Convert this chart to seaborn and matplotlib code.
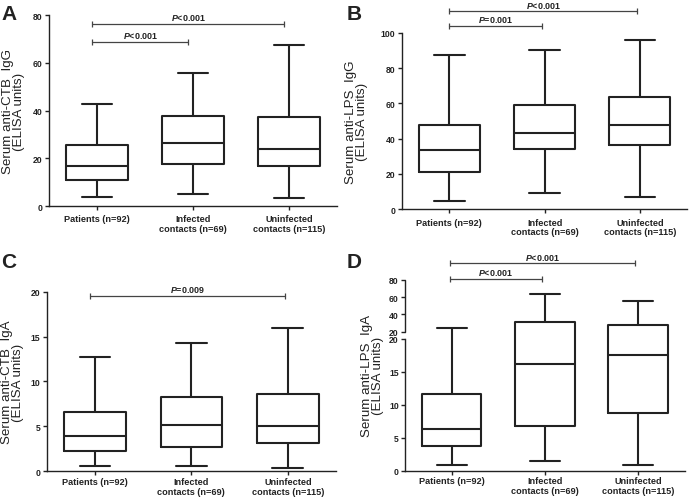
import matplotlib
matplotlib.use("Agg")
import matplotlib.pyplot as plt
from matplotlib.ticker import FixedLocator
import seaborn as sns
import pandas as pd
import numpy as np

# five-number summaries: min, Q1, median, Q3, max
groups = ["Patients (n=92)", "Infected\ncontacts (n=69)", "Uninfected\ncontacts (n=115)"]
ctb_igg = [[3.6, 11.0, 16.7, 25.4, 42.8],
           [5.0, 17.4, 26.3, 37.5, 55.7],
           [3.2, 16.7, 23.7, 37.1, 67.5]]
lps_igg = [[4.5, 21.1, 33.6, 47.9, 87.2],
           [9.2, 34.3, 43.4, 59.2, 90.4],
           [7.0, 36.2, 47.5, 63.6, 95.7]]
ctb_iga = [[0.59, 2.26, 3.90, 6.64, 12.76],
           [0.59, 2.75, 5.16, 8.24, 14.29],
           [0.41, 3.12, 5.05, 8.65, 15.92]]
lps_iga = [[0.86, 3.69, 6.26, 11.6, 23.9],
           [1.52, 6.77, 16.2, 31.6, 63.4],
           [0.86, 8.74, 17.5, 28.1, 55.3]]

ylabels = ["Serum anti-CTB  IgG\n(ELISA units)", "Serum anti-LPS  IgG\n(ELISA units)",
           "Serum anti-CTB  IgA\n(ELISA units)", "Serum anti-LPS  IgA\n(ELISA units)"]

sns.set_style("ticks")
plt.rcParams["font.family"] = ["Liberation Sans", "DejaVu Sans"]
plt.rcParams["mathtext.fontset"] = "custom"
plt.rcParams["mathtext.it"] = "Liberation Sans:italic:bold"
plt.rcParams["mathtext.rm"] = "Liberation Sans:bold"

ink = "#222222"


def to_frame(summary):
    rows = []
    for g, vals in zip(groups, summary):
        for v in vals:
            rows.append({"group": g, "value": v})
    return pd.DataFrame(rows)


def draw_box(ax, summary, xpad):
    # 5 points -> percentiles 25/50/75 land exactly on Q1/median/Q3
    sns.boxplot(data=to_frame(summary), x="group", y="value", order=groups,
                whis=(0, 100), fill=False, color=ink, linewidth=1.5,
                width=0.64, ax=ax)
    ax.set_xlim(-0.5, 2.5)
    ax.set_xlabel("")
    sns.despine(ax=ax)
    for s in ["left", "bottom"]:
        ax.spines[s].set_linewidth(1.0)
        ax.spines[s].set_color(ink)
    ax.tick_params(axis="both", length=3, width=1.0, color=ink, direction="out")
    ax.tick_params(axis="x", pad=xpad, labelsize=6.6)
    ax.tick_params(axis="y", pad=1.5, labelsize=6.2)
    for lab in ax.get_xticklabels() + ax.get_yticklabels():
        lab.set_fontweight("bold")
        lab.set_color(ink)
    for lab in ax.get_xticklabels():
        lab.set_linespacing(1.1)


def bracket(ax, x1, x2, y, label):
    ax.plot([x1, x2], [y, y], color="#444444", lw=0.9, marker="|", ms=5,
            mew=0.9, clip_on=False)
    ax.annotate(label, xy=((x1 + x2) / 2, y), xytext=(0, 1.2),
                textcoords="offset points", ha="center", va="bottom",
                fontsize=6.4, fontweight="bold", color=ink, annotation_clip=False)


fig = plt.figure(figsize=(6.91, 5.02), dpi=100)
axA = fig.add_axes([0.0709, 0.5876, 0.4168, 0.3805])
axB = fig.add_axes([0.5813, 0.5811, 0.4136, 0.3518])
axC = fig.add_axes([0.0676, 0.0592, 0.4187, 0.3577])
axD = fig.add_axes([0.5861, 0.0604, 0.4049, 0.3805])

# A
draw_box(axA, ctb_igg, 3)
axA.set_ylim(0, 80)
axA.set_yticks([0, 20, 40, 60, 80])
bracket(axA, -0.05, 0.95, 68.9, "$P$<0.001")
bracket(axA, -0.05, 1.95, 76.2, "$P$<0.001")

# B
draw_box(axB, lps_igg, 3)
axB.set_ylim(0, 100)
axB.set_yticks([0, 20, 40, 60, 80, 100])
bracket(axB, -0.0, 0.97, 104.0, "$P$=0.001")
bracket(axB, -0.0, 1.97, 112.1, "$P$<0.001")

# C
draw_box(axC, ctb_iga, 1)
axC.set_ylim(0, 20)
axC.set_yticks([0, 5, 10, 15, 20])
bracket(axC, -0.05, 1.97, 19.55, "$P$=0.009")

# D: broken axis, 0-20 linear then compressed 20-80
gap, k = 1.1, 0.1316


def fwd(y):
    y = np.asarray(y, dtype=float)
    return np.where(y <= 20, y, 20 + gap + (y - 20) * k)


def inv(f):
    f = np.asarray(f, dtype=float)
    return np.where(f <= 20, f, np.where(f < 20 + gap, 20, 20 + (f - 20 - gap) / k))


draw_box(axD, lps_iga, 1)
axD.set_yscale("function", functions=(fwd, inv))
axD.set_ylim(0, 80)
dticks = [0, 5, 10, 15, 20, 20.0001, 40, 60, 80]
axD.yaxis.set_major_locator(FixedLocator(dticks))
axD.set_yticklabels(["0", "5", "10", "15", "20", "20", "40", "60", "80"],
                    fontweight="bold", fontsize=6.2, color=ink)
axD.yaxis.set_minor_locator(FixedLocator([]))
axD.spines["left"].set_bounds(0, 20)
axD.plot([0, 0], [20.0001, 80], transform=axD.get_yaxis_transform(),
         color=ink, lw=1.0, clip_on=False)
bracket(axD, -0.02, 0.97, 81.2, "$P$<0.001")
bracket(axD, -0.02, 1.97, 98.7, "$P$<0.001")

# y labels: right edge of the two-line block placed as measured
for ax, lab, xr in zip([axA, axB, axC, axD], ylabels, [-0.083, -0.118, -0.078, -0.075]):
    ax.set_ylabel(lab, fontsize=9.6, color=ink, linespacing=0.92)
    ax.yaxis.set_label_coords(xr, 0.5)

for x, y, t in [(0.002, 0.99, "A"), (0.502, 0.99, "B"),
                (0.002, 0.497, "C"), (0.502, 0.497, "D")]:
    fig.text(x, y, t, fontsize=15, fontweight="bold", ha="left", va="top", color=ink)

plt.savefig("out.png", dpi=100)
plt.close()
